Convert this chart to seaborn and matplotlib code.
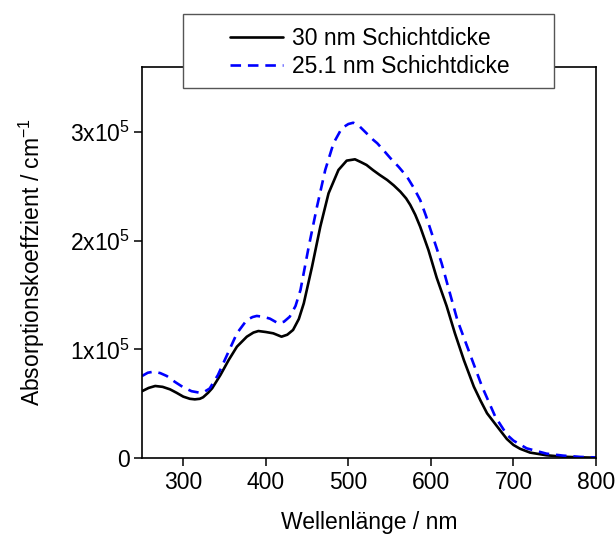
import numpy as np
import pandas as pd
import matplotlib
matplotlib.use("Agg")
import matplotlib.pyplot as plt
import seaborn as sns
from matplotlib.lines import Line2D
from matplotlib.patches import Rectangle

# Black curve: 30 nm
wl_30 = [250, 258, 266, 275, 284, 292, 300, 308, 314, 320, 324, 330, 335, 345, 355, 365, 377, 385, 391, 400,
         409, 419, 426, 433, 440, 446, 456, 466, 476, 488, 498, 508, 515, 522, 530, 538, 547, 555, 563, 570,
         575, 581, 587, 597, 607, 619, 629, 640, 652, 660, 668, 682, 692, 700, 708, 720, 740, 760, 780, 800]
abs_30 = [0.615, 0.645, 0.663, 0.655, 0.632, 0.600, 0.565, 0.545, 0.540, 0.545, 0.559, 0.600, 0.642, 0.764,
          0.902, 1.025, 1.117, 1.155, 1.169, 1.160, 1.148, 1.117, 1.135, 1.179, 1.280, 1.424, 1.762, 2.130,
          2.437, 2.652, 2.738, 2.750, 2.725, 2.698, 2.650, 2.606, 2.560, 2.510, 2.452, 2.390, 2.330, 2.240,
          2.130, 1.915, 1.660, 1.400, 1.150, 0.900, 0.657, 0.530, 0.412, 0.273, 0.175, 0.120, 0.085, 0.050,
          0.025, 0.012, 0.006, 0.003]

# Blue dashed curve: 25.1 nm
wl_25 = [250, 257, 264, 272, 280, 290, 300, 310, 320, 326, 332, 342, 353, 365, 377, 384, 389, 397, 405, 415,
         422, 429, 436, 442, 452, 462, 472, 482, 492, 500, 506, 514, 522, 530, 535, 543, 551, 561, 571, 579,
         587, 594, 601, 613, 623, 632, 638, 650, 662, 678, 692, 700, 716, 740, 760, 781, 800]
abs_25 = [0.755, 0.785, 0.795, 0.782, 0.755, 0.700, 0.651, 0.615, 0.601, 0.612, 0.640, 0.764, 0.948, 1.148,
          1.271, 1.298, 1.308, 1.300, 1.283, 1.240, 1.255, 1.301, 1.400, 1.547, 1.946, 2.314, 2.652, 2.898,
          3.036, 3.075, 3.087, 3.050, 2.990, 2.930, 2.898, 2.830, 2.760, 2.680, 2.590, 2.490, 2.376, 2.230,
          2.069, 1.793, 1.517, 1.271, 1.148, 0.902, 0.657, 0.380, 0.215, 0.160, 0.089, 0.040, 0.022, 0.010,
          0.005]

labels = ["30 nm Schichtdicke", "25.1 nm Schichtdicke"]
y_ticks = [0, 1e5, 2e5, 3e5]
y_ticklabels = ["0", r"1x10$^{5}$", r"2x10$^{5}$", r"3x10$^{5}$"]
x_ticks = [300, 400, 500, 600, 700, 800]

df = pd.concat([
    pd.DataFrame({"wl": wl_30, "a": np.array(abs_30) * 1e5, "s": labels[0]}),
    pd.DataFrame({"wl": wl_25, "a": np.array(abs_25) * 1e5, "s": labels[1]}),
])

sns.set_style("ticks")
plt.rcParams["font.family"] = ["Liberation Sans", "DejaVu Sans"]
plt.rcParams["mathtext.fontset"] = "custom"
plt.rcParams["mathtext.rm"] = "Liberation Sans"
plt.rcParams["mathtext.it"] = "Liberation Sans:italic"
plt.rcParams["text.color"] = "black"
plt.rcParams["axes.labelcolor"] = "black"

FS = 16.5
LW = 1.9
DASH = (4, 2.6)

fig = plt.figure(figsize=(6.15, 5.34), dpi=100)
ax = fig.add_axes([142/615, 1-458/534, (596-142)/615, (458-67)/534])

sns.lineplot(data=df, x="wl", y="a", hue="s", style="s",
             palette={labels[0]: "black", labels[1]: "#0000ff"},
             dashes={labels[0]: "", labels[1]: DASH},
             linewidth=LW, ax=ax, legend=False, sort=False)

ax.set_xlim(250, 800)
ax.set_ylim(0, 3.6e5)
ax.set_xticks(x_ticks)
ax.set_yticks(y_ticks)
ax.set_yticklabels(y_ticklabels)
ax.tick_params(direction="out", length=5.5, width=1.1, labelsize=FS, colors="black")
ax.tick_params(axis="y", pad=3)
ax.tick_params(axis="x", pad=4)
for sp in ax.spines.values():
    sp.set_linewidth(1.2)
    sp.set_color("black")
ax.set_xlabel("Wellenlänge / nm", fontsize=FS, labelpad=12, color="black")
ax.set_ylabel("Absorptionskoeffzient / cm$^{-1}$", fontsize=FS, labelpad=17, color="black")

# legend box
rect = Rectangle((183/615, 1-88/534), (554-183)/615, (88-14)/534, transform=fig.transFigure,
                 facecolor="white", edgecolor="#555555", linewidth=1.0, zorder=9)
fig.add_artist(rect)

handles = [Line2D([], [], color="black", lw=LW),
           Line2D([], [], color="#0000ff", lw=LW, dashes=DASH)]
leg = fig.legend(handles, labels, loc="center", bbox_to_anchor=(370/615, 1-52.5/534),
                 fontsize=FS, frameon=False, handlelength=2.3, borderpad=0,
                 labelspacing=0.2, handletextpad=0.4, labelcolor="black")
leg.set_zorder(10)

fig.savefig("out.png", dpi=100)
